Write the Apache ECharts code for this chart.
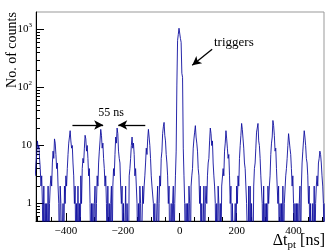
<!DOCTYPE html>
<html><head><meta charset="utf-8">
<script src="https://cdn.jsdelivr.net/npm/echarts@6/dist/echarts.min.js"></script>
<style>html,body{margin:0;padding:0;background:#fff}#c{width:335px;height:251px}</style>
</head><body><div id="c"></div>
<script>
// histogram: 2.5 ns bins starting at -507.5 ns
const binStart = -507.5;
const binWidth = 2.5;
const counts = [
  3,5,7,12,9,10,6,4,2,3,1,0,2,0,1,0,
  1,0,2,0,1,2,3,2,5,8,6,13,11,7,4,5,2,1,0,2,1,0,
  0,1,0,2,1,3,2,4,7,11,14,18,12,9,10,5,3,1,2,0,1,0,
  2,0,1,0,3,1,4,6,5,9,15,13,8,10,6,3,4,1,0,1,0,1,
  0,1,2,0,1,3,2,5,8,12,19,15,9,11,6,4,2,3,1,0,2,0,
  1,0,1,2,0,2,4,3,7,14,11,20,16,8,6,5,2,1,2,0,1,0,
  0,2,0,1,1,0,3,4,6,10,14,9,11,7,3,4,2,1,0,1,0,2,
  1,0,0,2,1,2,3,5,9,7,13,19,14,10,6,3,2,2,1,0,1,0,
  0,1,2,0,1,3,2,6,8,16,21,25,15,12,7,5,3,1,2,0,0,1,
  0,1,2,0,1,3,8,110,650,820,1050,980,700,600,176,150,9,3,1,0,1,0,
  1,0,2,1,0,2,3,4,9,13,17,22,14,11,8,4,3,1,2,0,1,0,
  0,2,0,1,2,1,3,5,6,12,20,16,10,12,5,3,2,1,0,1,0,2,
  1,0,1,0,2,2,4,3,8,11,18,13,9,6,7,3,1,2,0,1,1,0,
  0,1,0,2,1,3,2,6,10,15,24,19,13,9,5,4,2,1,1,0,2,0,
  2,0,1,1,0,2,4,5,9,17,20,24,12,10,6,3,3,1,0,2,0,1,
  0,1,0,2,1,2,3,7,11,14,27,22,15,8,9,4,2,1,2,0,1,0,
  1,0,2,0,1,1,3,4,6,10,16,12,9,7,4,2,3,1,0,1,0,1,
  0,1,0,1,2,0,2,5,8,12,18,14,10,6,5,3,1,2,0,1,0,0,
  1,0,2,0,1,2,3,2,5,6,8,7,5,3,2,1,0,1
];
const xTickValues = [-400, -200, 0, 200, 400];
const xMinorTickValues = [-500,-450,-350,-300,-250,-150,-100,-50,50,100,150,250,300,350,450,500];
const yTickValues = [1, 10, 100, 1000];
const yMinorTickValues = [0.6,0.7,0.8,0.9,2,3,4,5,6,7,8,9,20,30,40,50,60,70,80,90,200,300,400,500,600,700,800,900];

const FONT = 'Liberation Serif';
const pts = counts.map((c, i) => [binStart + i * binWidth, c > 0 ? c : 0.1]);
pts.push([binStart + counts.length * binWidth, counts[counts.length - 1] > 0 ? counts[counts.length - 1] : 0.1]);

const chart = echarts.init(document.getElementById('c'), null, {renderer: 'canvas'});
const X_MIN = -505, X_MAX = 507, Y_MIN = 0.5, Y_MAX = 2000;
chart.setOption({
  animation: false,
  backgroundColor: '#fff',
  grid: {left: 36, top: 12, width: 288, height: 209, show: true, borderColor: '#999', borderWidth: 1, backgroundColor: 'transparent'},
  xAxis: [{
    type: 'value', min: X_MIN, max: X_MAX,
    axisLine: {show: true, onZero: false, lineStyle: {color: '#000', width: 1}},
    axisTick: {show: true, inside: true, length: 8, customValues: xTickValues, lineStyle: {color: '#000'}},
    axisLabel: {show: true, customValues: xTickValues, margin: 5, color: '#000', fontFamily: FONT, fontSize: 11,
      formatter: v => (v < 0 ? '\u2212' + Math.abs(v) : String(v))},
    splitLine: {show: false}
  }, {
    type: 'value', min: X_MIN, max: X_MAX, position: 'bottom',
    axisLine: {show: false, onZero: false},
    axisTick: {show: true, inside: true, length: 4, customValues: xMinorTickValues, lineStyle: {color: '#000'}},
    axisLabel: {show: false}, splitLine: {show: false}
  }],
  yAxis: [{
    type: 'log', min: Y_MIN, max: Y_MAX, logBase: 10,
    axisLine: {show: true, onZero: false, lineStyle: {color: '#000', width: 1}},
    axisTick: {show: true, inside: true, length: 8, customValues: yTickValues, lineStyle: {color: '#000'}},
    axisLabel: {show: true, customValues: yTickValues, margin: 4, color: '#000', fontFamily: FONT, fontSize: 11,
      formatter: v => v >= 100 ? '{b|10}{s|' + Math.round(Math.log10(v)) + '}' : '{b|' + v + '}',
      rich: {b: {fontFamily: FONT, fontSize: 11, lineHeight: 16, color: '#000'},
             s: {fontFamily: FONT, fontSize: 7, verticalAlign: 'top', lineHeight: 16, color: '#000'}}},
    splitLine: {show: false}
  }, {
    type: 'log', min: Y_MIN, max: Y_MAX, logBase: 10, position: 'left',
    axisLine: {show: false, onZero: false},
    axisTick: {show: true, inside: true, length: 4, customValues: yMinorTickValues, lineStyle: {color: '#000'}},
    axisLabel: {show: false}, splitLine: {show: false}
  }],
  series: [{
    type: 'line', step: 'end', data: pts, xAxisIndex: 0, yAxisIndex: 0,
    showSymbol: false, symbol: 'none', clip: true,
    lineStyle: {color: '#10109f', width: 0.9},
    markLine: {
      silent: true, symbol: ['none', 'arrow'], symbolSize: [7, 9], precision: 5,
      lineStyle: {color: '#000', width: 1.3, type: 'solid'}, label: {show: false},
      data: [
        [{coord: [-377, 22.6]}, {coord: [-269, 22.6]}],
        [{coord: [-121, 22.6]}, {coord: [-216, 22.6]}],
        [{coord: [114, 456]}, {coord: [44, 242]}]
      ]
    }
  }],
  graphic: [
    {type: 'text', x: 12, y: 50, rotation: Math.PI / 2,
     style: {text: 'No. of counts', fontFamily: FONT, fontSize: 14, fill: '#000', align: 'center', verticalAlign: 'middle'}},
    {type: 'text', x: 325, y: 241,
     style: {text: '{a|\u0394t}{s|pt}{a| [ns]}', fill: '#000', align: 'right', verticalAlign: 'middle',
       rich: {a: {fontFamily: FONT, fontSize: 16, lineHeight: 20, fill: '#000'},
              s: {fontFamily: FONT, fontSize: 11, lineHeight: 20, verticalAlign: 'bottom', fill: '#000'}}}},
    {type: 'text', x: 111, y: 113,
     style: {text: '55 ns', fontFamily: FONT, fontSize: 12, fill: '#000', align: 'center', verticalAlign: 'middle'}},
    {type: 'text', x: 214, y: 43,
     style: {text: 'triggers', fontFamily: FONT, fontSize: 13, fill: '#000', align: 'left', verticalAlign: 'middle'}}
  ]
});
</script></body></html>
